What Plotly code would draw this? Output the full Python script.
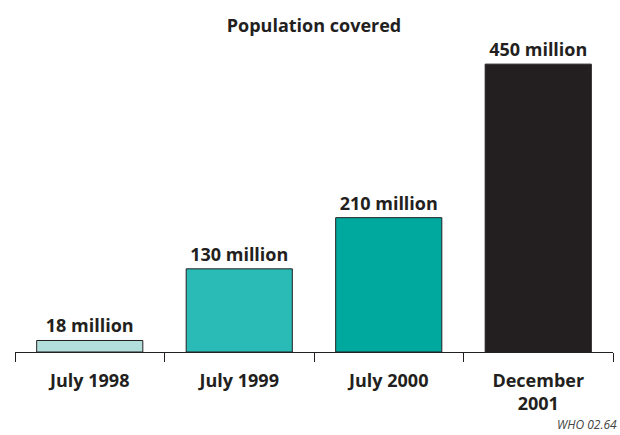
import plotly.graph_objects as go

categories = ["July 1998", "July 1999", "July 2000", "December<br>2001"]
values = [18, 130, 210, 450]
value_labels = ["18 million", "130 million", "210 million", "450 million"]
bar_colors = ["#b2dfdb", "#2bbbb7", "#00a99d", "#231f20"]

ink = "#231f20"
font_family = "Open Sans, DejaVu Sans, sans-serif"

fig = go.Figure()
fig.add_trace(go.Bar(
    x=categories,
    y=values,
    marker=dict(color=bar_colors, line=dict(color=ink, width=1)),
    text=value_labels,
    textposition="outside",
    textfont=dict(family=font_family, size=18, color=ink, weight=700),
    cliponaxis=False,
    width=0.71,
    hoverinfo="skip",
))

fig.update_layout(
    width=620,
    height=435,
    margin=dict(l=15, r=7, t=20, b=82.5),
    paper_bgcolor="white",
    plot_bgcolor="white",
    showlegend=False,
    title=dict(
        text="Population covered",
        font=dict(family=font_family, size=18, color=ink, weight=700),
        x=0.5, xanchor="center", xref="paper",
        y=0.926, yanchor="bottom", yref="container",
    ),
    xaxis=dict(
        range=[-0.5, 3.5],
        showline=True,
        linecolor=ink,
        linewidth=1,
        ticks="outside",
        tickson="boundaries",
        ticklen=9,
        tickcolor=ink,
        tickwidth=1,
        ticklabelstandoff=12,
        showgrid=False,
        tickfont=dict(family=font_family, size=18, color=ink, weight=700),
    ),
    yaxis=dict(
        range=[0, 519],
        visible=False,
        showgrid=False,
        zeroline=False,
    ),
    annotations=[dict(
        text="<i>WHO 02.64</i>",
        x=(555 - 15) / 598, y=(352.5 - 425) / 332.5,
        xref="paper", yref="paper",
        xanchor="left", yanchor="middle",
        showarrow=False,
        font=dict(family=font_family, size=12, color="#444444"),
    )],
)

fig.write_html("out.html")
